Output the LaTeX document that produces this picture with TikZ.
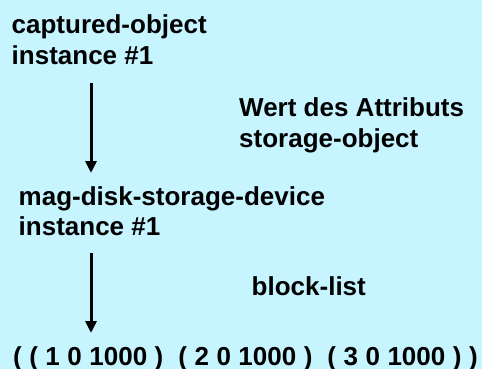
\documentclass[tikz,border=0pt]{standalone}
\usepackage{fontspec}
\setmainfont{Liberation Sans}
\usetikzlibrary{arrows.meta}
\definecolor{bgcyan}{RGB}{198,244,255}
\newcommand{\gap}{\hspace{7.5pt}}
\tikzset{
  lbl/.style={anchor=base west, inner sep=0pt, font=\bfseries\fontsize{26}{30}\selectfont},
  ptr/.style={line width=3pt, -{Triangle[width=11pt,length=12pt]}}
}
\begin{document}
\begin{tikzpicture}[x=1pt,y=-1pt]
  \fill[bgcyan] (0,0) rectangle (482,369);
  \useasboundingbox (0,0) rectangle (482,369);

  % source object
  \node[lbl] (cap1) at (11.5,34) {captured-object};
  \node[lbl] (cap2) at (11.5,64) {instance \#1};

  % attribute name of the first link
  \node[lbl] (attr1) at (239,117) {Wert des Attributs};
  \node[lbl] (attr2) at (239,147) {storage-object};

  % target device
  \node[lbl] (dev1) at (18.5,205) {mag-disk-storage-device};
  \node[lbl] (dev2) at (18.5,235) {instance \#1};

  % attribute name of the second link
  \node[lbl] (blk) at (251.5,295) {block-list};

  % resulting value
  \node[lbl] (val) at (13,365) {(\gap(\gap1\gap0\gap1000\gap)\gap\gap(\gap2\gap0\gap1000\gap)\gap\gap(\gap3\gap0\gap1000\gap)\gap)};

  % arrow end points
  \coordinate (p1s) at (91,83);
  \coordinate (p1e) at (91,173);
  \coordinate (p2s) at (91,253);
  \coordinate (p2e) at (91,333);

  \draw[ptr] (p1s) -- (p1e);
  \draw[ptr] (p2s) -- (p2e);
\end{tikzpicture}
\end{document}
